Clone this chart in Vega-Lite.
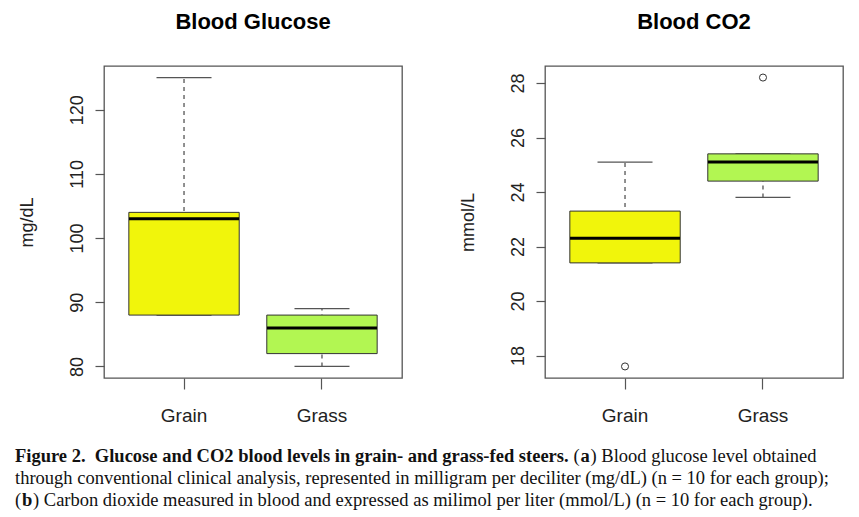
{
  "$schema": "https://vega.github.io/schema/vega-lite/v6.json",
  "background": "white",
  "padding": {"left": 15, "top": 10, "right": 5, "bottom": 2},
  "config": {
    "font": "Liberation Sans",
    "view": {"stroke": "#555", "strokeWidth": 1.3},
    "axis": {
      "labelFont": "Liberation Sans",
      "titleFont": "Liberation Sans",
      "grid": false,
      "domain": false,
      "tickColor": "#555",
      "tickWidth": 1.2,
      "labelColor": "#222",
      "titleColor": "#222",
      "titleFontWeight": "normal"
    },
    "title": {"font": "Liberation Serif", "fontSize": 18.5, "color": "#111", "anchor": "start", "offset": 0, "limit": 0}
  },
  "datasets": {
    "glucose": [
      {"group": "Grain", "lower": 88, "q1": 88, "median": 103, "q3": 104, "upper": 125},
      {"group": "Grass", "lower": 80, "q1": 82, "median": 86, "q3": 88, "upper": 89}
    ],
    "co2": [
      {"group": "Grain", "lower": 21.4, "q1": 21.4, "median": 22.3, "q3": 23.3, "upper": 25.1},
      {"group": "Grass", "lower": 23.8, "q1": 24.4, "median": 25.1, "q3": 25.4, "upper": 25.4}
    ],
    "co2out": [
      {"group": "Grain", "value": 17.6},
      {"group": "Grass", "value": 28.2}
    ]
  },
  "spacing": 20,
  "vconcat": [
    {
      "spacing": 1,
      "hconcat": [
        {"width": 1, "height": 1, "view": {"stroke": null}, "data": {"values": []}, "mark": "point"},
        {
          "spacing": 55,
          "hconcat": [
            {
              "width": 298,
              "height": 312,
              "title": {"text": "Blood Glucose", "fontSize": 22, "fontWeight": "bold", "font": "Liberation Sans", "color": "#000", "offset": 32, "anchor": "middle"},
              "data": {"name": "glucose"},
              "encoding": {
                "x": {
                  "field": "group", "type": "nominal",
                  "scale": {"type": "band", "domain": ["Grain", "Grass"], "paddingInner": 0.2, "paddingOuter": 0.18},
                  "axis": {"title": null, "labelAngle": 0, "labelFontSize": 19, "tickSize": 11, "labelPadding": 17, "bandPosition": 0.5}
                }
              },
              "layer": [
                {
                  "mark": {"type": "rule", "strokeDash": [4, 4], "color": "#555", "strokeWidth": 1.3},
                  "encoding": {
                    "y": {
                      "field": "lower", "type": "quantitative",
                      "scale": {"domain": [78.2, 126.8], "nice": false, "zero": false},
                      "axis": {"title": "mg/dL", "values": [80, 90, 100, 110, 120], "labelAngle": -90, "labelAlign": "center", "labelBaseline": "bottom", "labelFontSize": 18, "titleFontSize": 18, "tickSize": 9, "labelPadding": 9, "titlePadding": 32}
                    },
                    "y2": {"field": "upper"}
                  }
                },
                {
                  "mark": {"type": "tick", "size": 55, "thickness": 1.3, "color": "#555", "opacity": 1},
                  "encoding": {"y": {"field": "upper", "type": "quantitative", "title": "mg/dL"}}
                },
                {
                  "mark": {"type": "tick", "size": 55, "thickness": 1.3, "color": "#555", "opacity": 1},
                  "encoding": {"y": {"field": "lower", "type": "quantitative", "title": "mg/dL"}}
                },
                {
                  "mark": {"type": "bar", "stroke": "#333", "strokeWidth": 1, "opacity": 1},
                  "encoding": {
                    "y": {"field": "q1", "type": "quantitative", "title": "mg/dL"},
                    "y2": {"field": "q3"},
                    "fill": {"field": "group", "type": "nominal", "scale": {"domain": ["Grain", "Grass"], "range": ["#f1f50b", "#b2f652"]}, "legend": null}
                  }
                },
                {
                  "mark": {"type": "tick", "size": 110, "thickness": 3, "color": "#000", "opacity": 1},
                  "encoding": {"y": {"field": "median", "type": "quantitative", "title": "mg/dL"}}
                }
              ]
            },
            {
              "width": 298,
              "height": 312,
              "title": {"text": "Blood CO2", "fontSize": 22, "fontWeight": "bold", "font": "Liberation Sans", "color": "#000", "offset": 32, "anchor": "middle"},
              "encoding": {
                "x": {
                  "field": "group", "type": "nominal",
                  "scale": {"type": "band", "domain": ["Grain", "Grass"], "paddingInner": 0.2, "paddingOuter": 0.18},
                  "axis": {"title": null, "labelAngle": 0, "labelFontSize": 19, "tickSize": 11, "labelPadding": 17, "bandPosition": 0.5}
                }
              },
              "layer": [
                {
                  "data": {"name": "co2"},
                  "mark": {"type": "rule", "strokeDash": [4, 4], "color": "#555", "strokeWidth": 1.3},
                  "encoding": {
                    "y": {
                      "field": "lower", "type": "quantitative",
                      "scale": {"domain": [17.176, 28.624], "nice": false, "zero": false},
                      "axis": {"title": "mmol/L", "values": [18, 20, 22, 24, 26, 28], "labelAngle": -90, "labelAlign": "center", "labelBaseline": "bottom", "labelFontSize": 18, "titleFontSize": 18, "tickSize": 9, "labelPadding": 9, "titlePadding": 32}
                    },
                    "y2": {"field": "upper"}
                  }
                },
                {
                  "data": {"name": "co2"},
                  "mark": {"type": "tick", "size": 55, "thickness": 1.3, "color": "#555", "opacity": 1},
                  "encoding": {"y": {"field": "upper", "type": "quantitative", "title": "mmol/L"}}
                },
                {
                  "data": {"name": "co2"},
                  "mark": {"type": "tick", "size": 55, "thickness": 1.3, "color": "#555", "opacity": 1},
                  "encoding": {"y": {"field": "lower", "type": "quantitative", "title": "mmol/L"}}
                },
                {
                  "data": {"name": "co2"},
                  "mark": {"type": "bar", "stroke": "#333", "strokeWidth": 1, "opacity": 1},
                  "encoding": {
                    "y": {"field": "q1", "type": "quantitative", "title": "mmol/L"},
                    "y2": {"field": "q3"},
                    "fill": {"field": "group", "type": "nominal", "scale": {"domain": ["Grain", "Grass"], "range": ["#f1f50b", "#b2f652"]}, "legend": null}
                  }
                },
                {
                  "data": {"name": "co2"},
                  "mark": {"type": "tick", "size": 110, "thickness": 3, "color": "#000", "opacity": 1},
                  "encoding": {"y": {"field": "median", "type": "quantitative", "title": "mmol/L"}}
                },
                {
                  "data": {"name": "co2out"},
                  "mark": {"type": "point", "shape": "circle", "filled": false, "size": 50, "stroke": "#333", "strokeWidth": 1, "opacity": 1},
                  "encoding": {"y": {"field": "value", "type": "quantitative", "title": "mmol/L"}}
                }
              ]
            }
          ]
        }
      ]
    },
    {
      "spacing": -2,
      "vconcat": [
        {
          "spacing": 4.5,
          "hconcat": [
            {"width": 1, "height": 1, "view": {"stroke": null}, "data": {"values": []}, "mark": "point",
             "title": {"text": "Figure 2.\u00a0 Glucose and CO2 blood levels in grain- and grass-fed steers.", "fontWeight": "bold"}},
            {
              "spacing": 0,
              "hconcat": [
                {"width": 1, "height": 1, "view": {"stroke": null}, "data": {"values": []}, "mark": "point",
                 "title": {"text": "(", "fontWeight": "normal"}},
                {"width": 1, "height": 1, "view": {"stroke": null}, "data": {"values": []}, "mark": "point",
                 "title": {"text": "a", "fontWeight": "bold"}},
                {"width": 1, "height": 1, "view": {"stroke": null}, "data": {"values": []}, "mark": "point",
                 "title": {"text": ") Blood glucose level obtained", "fontWeight": "normal"}}
              ]
            }
          ]
        },
        {"width": 1, "height": 1, "view": {"stroke": null}, "data": {"values": []}, "mark": "point",
         "title": {"text": "through conventional clinical analysis, represented in milligram per deciliter (mg/dL) (n = 10 for each group);", "fontWeight": "normal"}},
        {
          "spacing": 0,
          "hconcat": [
            {"width": 1, "height": 1, "view": {"stroke": null}, "data": {"values": []}, "mark": "point",
             "title": {"text": "(", "fontWeight": "normal"}},
            {"width": 1, "height": 1, "view": {"stroke": null}, "data": {"values": []}, "mark": "point",
             "title": {"text": "b", "fontWeight": "bold"}},
            {"width": 1, "height": 1, "view": {"stroke": null}, "data": {"values": []}, "mark": "point",
             "title": {"text": ") Carbon dioxide measured in blood and expressed as milimol per liter (mmol/L) (n = 10 for each group).", "fontWeight": "normal"}}
          ]
        }
      ]
    }
  ]
}
